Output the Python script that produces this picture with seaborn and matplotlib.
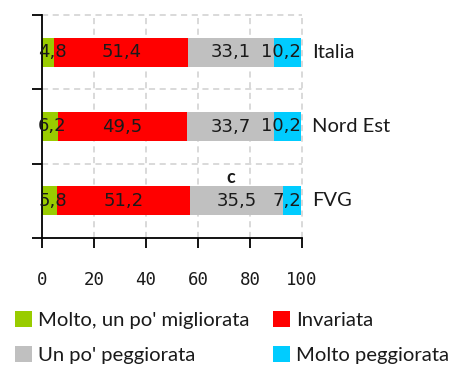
import matplotlib
matplotlib.use("Agg")
import matplotlib.pyplot as plt
from matplotlib.patches import Patch
import numpy as np
import pandas as pd
import seaborn as sns

# Data
areas = ["Italia", "Nord Est", "FVG"]
migliorata = [4.8, 6.2, 5.8]
invariata = [51.4, 49.5, 51.2]
un_po_peggiorata = [33.1, 33.7, 35.5]
molto_peggiorata = [10.2, 10.2, 7.2]
series_names = ["Molto, un po' migliorata", "Invariata", "Un po' peggiorata", "Molto peggiorata"]
series_colors = ["#99CC00", "#FF0000", "#C0C0C0", "#00CCFF"]
x_ticks = [0, 20, 40, 60, 80, 100]

sns.set_style("white")
plt.rcParams.update({
    "font.family": ["DejaVu Sans"],
    "xtick.bottom": True,
    "ytick.left": True,
    "xtick.direction": "out",
    "ytick.direction": "out",
    "xtick.major.size": 7,
    "ytick.major.size": 7,
    "xtick.major.width": 1.3,
    "ytick.major.width": 1.3,
    "xtick.color": "black",
    "ytick.color": "black",
    "xtick.major.pad": 17,
})

series = [migliorata, invariata, un_po_peggiorata, molto_peggiorata]
values = np.array(series)
cum = np.cumsum(values, axis=0)

fig = plt.figure(figsize=(4.55, 3.67), dpi=100)
ax = fig.add_axes([42 / 455, 1 - 238 / 367, 260 / 455, 223 / 367])

# Stacked bars: draw cumulative totals from the outermost segment inward
for k in range(len(series) - 1, -1, -1):
    df = pd.DataFrame({"area": areas, "total": cum[k]})
    sns.barplot(data=df, x="total", y="area", order=areas, color=series_colors[k],
                saturation=1, width=0.39, edgecolor="none", linewidth=0, ax=ax, zorder=2)

ax.set_xlim(0, 100)
ax.set_ylim(2.5, -0.5)
ax.set_xlabel("")
ax.set_ylabel("")

ax.set_xticks(x_ticks)
ax.set_xticklabels([str(t) for t in x_ticks], family="DejaVu Sans Mono", fontsize=12.5,
                   color="#1a1a1a")
bounds = [-0.5, 0.5, 1.5, 2.5]
ax.set_yticks(bounds)
ax.set_yticklabels([])

# Dashed grid
grid_kw = dict(color="#D0D0D0", linestyle=(0, (4, 3)), linewidth=1.1, zorder=0, clip_on=False)
for xv in x_ticks[1:]:
    ax.axvline(xv, **grid_kw)
for yv in bounds[:-1]:
    ax.axhline(yv, **grid_kw)

for side in ["top", "right"]:
    ax.spines[side].set_visible(False)
for side in ["left", "bottom"]:
    ax.spines[side].set_color("black")
    ax.spines[side].set_linewidth(1.3)
    ax.spines[side].set_zorder(5)

# Category names to the right of the bars
for i, name in enumerate(areas):
    ax.annotate(name, xy=(100, i), xytext=(10, 0), textcoords="offset pixels",
                ha="left", va="center", family="Lato", fontsize=14.5, color="#1a1a1a",
                annotation_clip=False)

# Value labels centred in each segment, kept inside the plot area
fmt = lambda v: f"{v:.1f}".replace(".", ",")
labels = []
for k in range(len(series)):
    for i in range(len(areas)):
        start = cum[k][i] - values[k][i]
        txt = ax.text(start + values[k][i] / 2, i, fmt(values[k][i]), ha="center", va="center",
                      fontsize=13, color="#1a1a1a", zorder=6)
        labels.append(txt)

fig.canvas.draw()
renderer = fig.canvas.get_renderer()
left_px = ax.transData.transform((-1.5, 0))[0]
right_px = ax.transData.transform((99.6, 0))[0]
inv = ax.transData.inverted()
for txt in labels:
    bb = txt.get_window_extent(renderer)
    shift = 0
    if bb.x0 < left_px:
        shift = left_px - bb.x0
    elif bb.x1 > right_px:
        shift = right_px - bb.x1
    if shift:
        x, y = txt.get_position()
        px = ax.transData.transform((x, y))
        txt.set_position(inv.transform((px[0] + shift, px[1])))

ax.text(72.7, 1.68, "c", ha="center", va="center", family="Lato", fontweight="bold",
        fontsize=13, color="#1a1a1a", zorder=6)

handles = [Patch(facecolor=c, edgecolor="none") for c in series_colors]
order = [0, 2, 1, 3]
fig.legend([handles[i] for i in order], [series_names[i] for i in order],
           loc="upper left", bbox_to_anchor=(15 / 455, 1 - 311 / 367), ncol=2,
           frameon=False, prop={"family": "Lato", "size": 14.6},
           handlelength=0.84, handleheight=0.84, handletextpad=0.3,
           columnspacing=1.15, labelspacing=0.82, borderaxespad=0, borderpad=0,
           labelcolor="#1a1a1a")

fig.savefig("out.png", dpi=100)
